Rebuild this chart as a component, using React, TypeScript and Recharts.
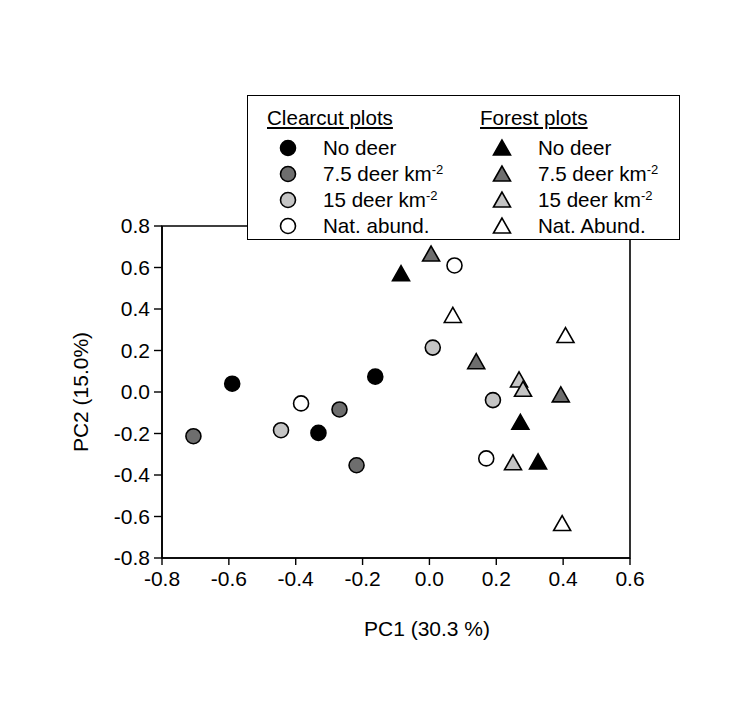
import { ScatterChart, Scatter, XAxis, YAxis, ReferenceArea, Label } from 'recharts';

// PCA scores (PC1, PC2)
const clearNoDeer = [
  { x: -0.59, y: 0.04 },
  { x: -0.162, y: 0.074 },
  { x: -0.332, y: -0.197 },
];
const clearDeer75 = [
  { x: -0.269, y: -0.084 },
  { x: -0.706, y: -0.213 },
  { x: -0.218, y: -0.353 },
];
const clearDeer15 = [
  { x: 0.01, y: 0.214 },
  { x: 0.19, y: -0.039 },
  { x: -0.444, y: -0.184 },
];
const clearNatural = [
  { x: -0.384, y: -0.055 },
  { x: 0.075, y: 0.61 },
  { x: 0.17, y: -0.32 },
];
const forestNoDeer = [
  { x: -0.085, y: 0.57 },
  { x: 0.272, y: -0.146 },
  { x: 0.325, y: -0.337 },
];
const forestDeer75 = [
  { x: 0.005, y: 0.665 },
  { x: 0.14, y: 0.146 },
  { x: 0.393, y: -0.014 },
];
const forestDeer15 = [
  { x: 0.268, y: 0.058 },
  { x: 0.28, y: 0.013 },
  { x: 0.25, y: -0.341 },
];
const forestNatural = [
  { x: 0.07, y: 0.369 },
  { x: 0.407, y: 0.272 },
  { x: 0.397, y: -0.634 },
];

const xTicks = [-0.8, -0.6, -0.4, -0.2, 0, 0.2, 0.4, 0.6];
const yTicks = [-0.8, -0.6, -0.4, -0.2, 0, 0.2, 0.4, 0.6, 0.8];

const clearLabels = ['No deer', '7.5 deer km', '15 deer km', 'Nat. abund.'];
const forestLabels = ['No deer', '7.5 deer km', '15 deer km', 'Nat. Abund.'];
const hasSup = [false, true, true, false];

const BLACK = '#000000';
const DARK = '#6e6e6e';
const LIGHT = '#c4c4c4';
const WHITE = '#ffffff';
const legendFills = [BLACK, DARK, LIGHT, WHITE];

const FONT = 'Arial, "Liberation Sans", Helvetica, sans-serif';

const circleShape = (fill: string) => (props: any) => (
  <circle cx={props.cx} cy={props.cy} r={7.5} fill={fill} stroke="#000" strokeWidth={1.6} />
);

const triPoints = (cx: number, cy: number) =>
  `${cx},${cy - 8} ${cx - 8.5},${cy + 7} ${cx + 8.5},${cy + 7}`;

const triangleShape = (fill: string) => (props: any) => (
  <polygon points={triPoints(props.cx, props.cy)} fill={fill} stroke="#000" strokeWidth={1.6} />
);

function LegendBox() {
  const rowY = [53, 79, 104.5, 130.5];
  const textStyle: React.CSSProperties = {
    position: 'absolute',
    fontSize: 20.6,
    lineHeight: '20px',
    whiteSpace: 'nowrap',
    color: '#000',
  };
  return (
    <div
      style={{
        position: 'absolute',
        left: 247,
        top: 95,
        width: 431,
        height: 143,
        border: '1.5px solid #000',
        background: '#fff',
        fontFamily: FONT,
      }}
    >
      <div style={{ ...textStyle, left: 19, top: 12, textDecoration: 'underline' }}>Clearcut plots</div>
      <div style={{ ...textStyle, left: 232, top: 12, textDecoration: 'underline' }}>Forest plots</div>
      {clearLabels.map((label, i) => (
        <div key={'c' + i}>
          <svg style={{ position: 'absolute', left: 30, top: rowY[i] - 11 }} width={20} height={20}>
            <circle cx={10} cy={10} r={7.5} fill={legendFills[i]} stroke="#000" strokeWidth={1.6} />
          </svg>
          <div style={{ ...textStyle, left: 75, top: rowY[i] - 11 }}>
            {label}
            {hasSup[i] && <sup style={{ fontSize: 13, lineHeight: 0, verticalAlign: 7 }}>-2</sup>}
          </div>
        </div>
      ))}
      {forestLabels.map((label, i) => (
        <div key={'f' + i}>
          <svg style={{ position: 'absolute', left: 244, top: rowY[i] - 11 }} width={20} height={20}>
            <polygon points={triPoints(10, 10)} fill={legendFills[i]} stroke="#000" strokeWidth={1.6} />
          </svg>
          <div style={{ ...textStyle, left: 290, top: rowY[i] - 11 }}>
            {label}
            {hasSup[i] && <sup style={{ fontSize: 13, lineHeight: 0, verticalAlign: 7 }}>-2</sup>}
          </div>
        </div>
      ))}
    </div>
  );
}

export default function App() {
  return (
    <div style={{ position: 'absolute', left: 0, top: 0, width: 751, height: 702, background: '#fff' }}>
      <ScatterChart
        width={751}
        height={702}
        margin={{ top: 226, right: 121, bottom: 3, left: 0 }}
        style={{ fontFamily: FONT }}
      >
        <XAxis
          type="number"
          dataKey="x"
          domain={[-0.8, 0.6]}
          ticks={xTicks}
          interval={0}
          tickFormatter={(v: number) => v.toFixed(1)}
          height={141}
          tickSize={7}
          tickMargin={6}
          tick={{ fill: '#000', fontSize: 21 }}
          axisLine={{ stroke: '#000', strokeWidth: 1.6 }}
          tickLine={{ stroke: '#000', strokeWidth: 1.4 }}
          allowDataOverflow
        >
          <Label value="PC1 (30.3 %)" position="center" dx={31} fill="#000" fontSize={21} />
        </XAxis>
        <YAxis
          type="number"
          dataKey="y"
          domain={[-0.8, 0.8]}
          ticks={yTicks}
          interval={0}
          tickFormatter={(v: number) => v.toFixed(1)}
          width={162}
          tickSize={8}
          tickMargin={4}
          tick={{ fill: '#000', fontSize: 21 }}
          axisLine={{ stroke: '#000', strokeWidth: 1.6 }}
          tickLine={{ stroke: '#000', strokeWidth: 1.4 }}
          allowDataOverflow
        >
          <Label value="PC2 (15.0%)" angle={-90} position="center" fill="#000" fontSize={21} />
        </YAxis>
        <ReferenceArea x1={-0.8} x2={0.6} y1={-0.8} y2={0.8} fill="none" stroke="#000" strokeWidth={1.6} />
        <Scatter data={clearNoDeer} shape={circleShape(BLACK)} isAnimationActive={false} />
        <Scatter data={clearDeer75} shape={circleShape(DARK)} isAnimationActive={false} />
        <Scatter data={clearDeer15} shape={circleShape(LIGHT)} isAnimationActive={false} />
        <Scatter data={clearNatural} shape={circleShape(WHITE)} isAnimationActive={false} />
        <Scatter data={forestNoDeer} shape={triangleShape(BLACK)} isAnimationActive={false} />
        <Scatter data={forestDeer75} shape={triangleShape(DARK)} isAnimationActive={false} />
        <Scatter data={forestDeer15} shape={triangleShape(LIGHT)} isAnimationActive={false} />
        <Scatter data={forestNatural} shape={triangleShape(WHITE)} isAnimationActive={false} />
      </ScatterChart>
      <LegendBox />
    </div>
  );
}
